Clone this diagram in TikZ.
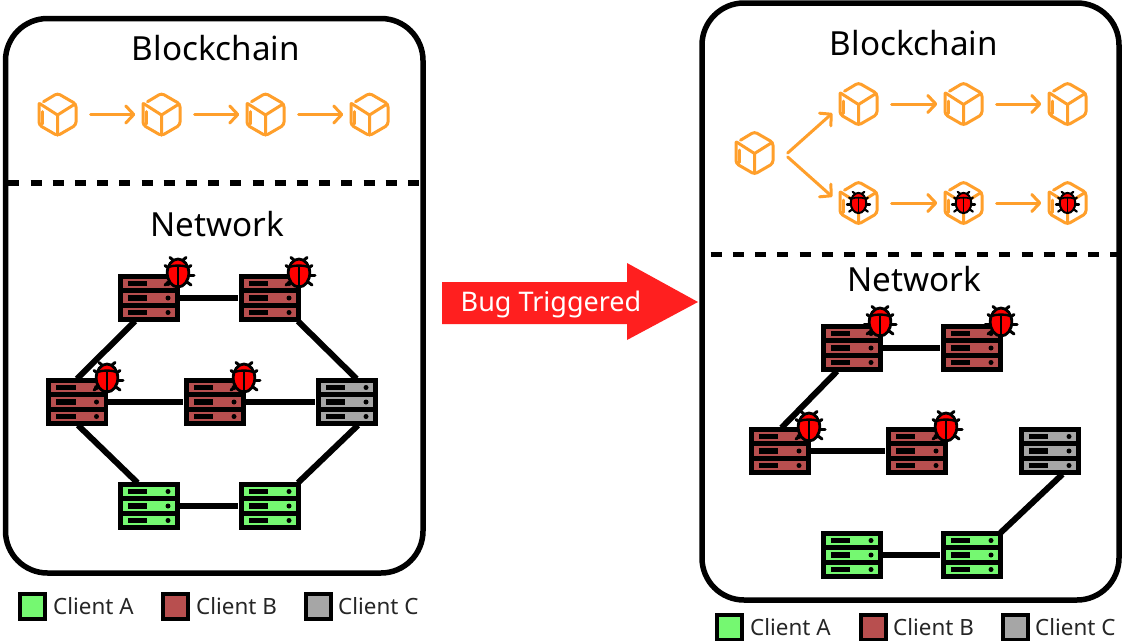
\documentclass[tikz,border=0pt]{standalone}
\usepackage{fontspec}
\setmainfont{Noto Sans}
\usetikzlibrary{arrows.meta,calc}
\definecolor{orng}{HTML}{FF9F2B}
\definecolor{cliA}{HTML}{75F871}
\definecolor{cliB}{HTML}{B84F4F}
\definecolor{cliC}{HTML}{A6A6A6}
\definecolor{bugred}{HTML}{FF0000}
\definecolor{arrowred}{HTML}{FF1F1F}
\tikzset{
  x=1pt,y=-1pt,
  frame/.style={draw=black,line width=5.5pt,rounded corners=42pt},
  divider/.style={draw=black,line width=5.5pt,dash pattern=on 11pt off 11.2pt},
  title/.style={font=\fontsize{33.2}{38}\selectfont,text=black,inner sep=0pt},
  srvbox/.style={fill=black,draw=none,minimum width=62pt,minimum height=48pt,inner sep=0pt},
  cubebox/.style={draw=none,minimum width=40pt,minimum height=46pt,inner sep=0pt},
  link/.style={draw=black,line width=6pt},
  flow/.style={draw=orng,line width=3pt,line cap=round,line join=round,-{Straight Barb[length=8pt,width=17pt,round,line width=3pt]}},
  chain/.style={flow,shorten <=13pt,shorten >=6pt},
  cubeline/.style={draw=orng,line width=3pt,line cap=round,line join=round},
  swatch/.style={draw=black,line width=4pt,minimum size=25pt,inner sep=0pt},
  legend/.style={font=\fontsize{22.4}{26}\selectfont,text=black!85,inner sep=0pt,anchor=west},
  banner/.style={fill=arrowred,draw=none},
  bannertext/.style={font=\fontsize{27}{31}\selectfont,text=white,inner sep=0pt},
}
\newcommand{\srvat}[4]{%
  \node[srvbox] (#1) at (#2,#3) {};
  \begin{scope}[shift={(#2,#3)}]
    \foreach \yy in {-14.5,0,14.5}{
      \fill[#4] (-26,\yy-4.8) rectangle (26.5,\yy+4.8);
      \fill[black] (-21,\yy-2.6) rectangle (-1.5,\yy+2.6);
      \fill[black] (19.5,\yy) circle (2.5);
    }
  \end{scope}}
\newcommand{\bugat}[3]{%
  \begin{scope}[shift={(#1,#2)},scale=#3,line cap=round]
    \foreach \sx in {-1,1}{
      \draw[black,line width=#3*3pt] (\sx*4,-12) -- (\sx*8,-15.5);
      \draw[black,line width=#3*3pt] (\sx*9.5,-5) -- (\sx*13,-7.5);
      \draw[black,line width=#3*3pt] (\sx*11,2) -- (\sx*16,2);
      \draw[black,line width=#3*3pt] (\sx*9,9) -- (\sx*13,12);
    }
    \filldraw[fill=bugred,draw=black,line width=#3*2.8pt] (0,0) ellipse (10.8 and 14);
    \draw[black,line width=#3*2.6pt] (0,-6) -- (0,13);
    \draw[black,line width=#3*2.4pt] (-9.5,-6) .. controls (-4,-8) and (4,-8) .. (9.5,-6);
  \end{scope}}
\newcommand{\cubeat}[3]{%
  \node[cubebox] (#1) at (#2,#3) {};
  \begin{scope}[shift={(#2,#3)}]
    \draw[cubeline,rounded corners=3pt] (-14,-12.8) -- (0,-21.2) -- (18.5,-10.5) -- (18.5,10.5) -- (0,21.2) -- (-18.5,10.5) -- (-18.5,-11);
    \draw[cubeline] (-18,-11) -- (0,0.5) -- (17.5,-10.5) (0,0.5) -- (0,20.5);
    \draw[cubeline] (-15,-2.8) -- (-15,9.5);
  \end{scope}}
\newcommand{\swat}[4]{\node[swatch,fill=#4] (#1) at (#2,#3) {};}
\begin{document}
\begin{tikzpicture}
\useasboundingbox (0,0) rectangle (1122,640);
\fill[white] (0,0) rectangle (1122,640);

% ---------- left panel
\draw[frame] (5.5,18.5) rectangle (423,573);
\coordinate (ldl) at (8.3,183); \coordinate (ldr) at (423,183);
\draw[divider] (ldl) -- (ldr);
\node[title] (lt1) at (216,48) {Blockchain};
\node[title] (lt2) at (217,224) {Network};

\cubeat{lc1}{57.5}{114.5}
\cubeat{lc2}{161.5}{114.5}
\cubeat{lc3}{265.5}{114.5}
\cubeat{lc4}{369.5}{114.5}
\draw[chain] (lc1.east) -- (lc2.west);
\draw[chain] (lc2.east) -- (lc3.west);
\draw[chain] (lc3.east) -- (lc4.west);

\srvat{ls1}{148.5}{298}{cliB}
\srvat{ls2}{269.5}{298}{cliB}
\srvat{ls3}{77}{402}{cliB}
\srvat{ls4}{214.5}{402}{cliB}
\srvat{ls5}{346.5}{402}{cliC}
\srvat{ls6}{148.5}{506}{cliA}
\srvat{ls7}{269.5}{506}{cliA}
\draw[link] (ls1) -- (ls2);
\draw[link] (ls3) -- (ls4);
\draw[link] (ls4) -- (ls5);
\draw[link] (ls6) -- (ls7);
\draw[link] ($(ls1.south)+(-13.5,-1)$) -- ($(ls3.north)+(0,1)$);
\draw[link] ($(ls2.south)+(28.5,-1)$) -- ($(ls5.north)+(10,1)$);
\draw[link] ($(ls3.south)+(1,-1)$) -- ($(ls6.north)+(-11,1)$);
\draw[link] ($(ls5.south)+(11.5,-1)$) -- ($(ls7.north)+(28.5,1)$);
\bugat{178}{273}{1}
\bugat{299}{273}{1}
\bugat{107}{378}{1}
\bugat{244}{378}{1}

% ---------- banner arrow
\path[banner] (442,282) -- (627,282) -- (627,263) -- (698,302) -- (627,340) -- (627,324) -- (442,324) -- cycle;
\node[bannertext] (bt) at (551,304) {Bug Triggered};

% ---------- right panel
\draw[frame] (702,3) rectangle (1119,600);
\coordinate (rdl) at (710.7,254.5); \coordinate (rdr) at (1119,254.5);
\draw[divider] (rdl) -- (rdr);
\node[title] (rt1) at (914,43) {Blockchain};
\node[title] (rt2) at (914,279) {Network};

\cubeat{rc0}{754.5}{153}
\cubeat{ru1}{858.5}{104}
\cubeat{ru2}{963.5}{104}
\cubeat{ru3}{1067.5}{104}
\cubeat{rl1}{858.5}{203}
\cubeat{rl2}{963.5}{203}
\cubeat{rl3}{1067.5}{203}
\draw[chain] (ru1.east) -- (ru2.west);
\draw[chain] (ru2.east) -- (ru3.west);
\draw[chain] (rl1.east) -- (rl2.west);
\draw[chain] (rl2.east) -- (rl3.west);
\draw[flow] ($(rc0.east)+(13,0)$) -- ($(ru1.south west)+(-6,-14)$);
\draw[flow] ($(rc0.east)+(13,4)$) -- ($(rl1.north west)+(-6,17)$);
\bugat{858.5}{203}{0.72}
\bugat{963.5}{203}{0.72}
\bugat{1067.5}{203}{0.72}

\srvat{rs1}{851.5}{348}{cliB}
\srvat{rs2}{971.5}{348}{cliB}
\srvat{rs3}{779.5}{451}{cliB}
\srvat{rs4}{916.5}{451}{cliB}
\srvat{rs5}{1049.5}{451}{cliC}
\srvat{rs6}{851.5}{555}{cliA}
\srvat{rs7}{971.5}{555}{cliA}
\draw[link] (rs1) -- (rs2);
\draw[link] (rs3) -- (rs4);
\draw[link] (rs6) -- (rs7);
\draw[link] ($(rs1.south)+(-14.5,-1)$) -- ($(rs3.north)+(2,1)$);
\draw[link] ($(rs5.south)+(13,-1)$) -- ($(rs7.north)+(29,2)$);
\bugat{880}{322}{1}
\bugat{1001}{322}{1}
\bugat{809}{427}{1}
\bugat{946}{427}{1}

% ---------- legends
\swat{la}{32.5}{606}{cliA}
\node[legend] (lla) at (53,606) {Client A};
\swat{lb}{175}{606}{cliB}
\node[legend] (llb) at (196,606) {Client B};
\swat{lc}{318}{606}{cliC}
\node[legend] (llc) at (338,606) {Client C};
\swat{ra}{729.5}{627.5}{cliA}
\node[legend] (rla) at (750,627) {Client A};
\swat{rb}{873}{627.5}{cliB}
\node[legend] (rlb) at (893,627) {Client B};
\swat{rc}{1015}{627.5}{cliC}
\node[legend] (rlc) at (1035,627) {Client C};
\end{tikzpicture}
\end{document}
